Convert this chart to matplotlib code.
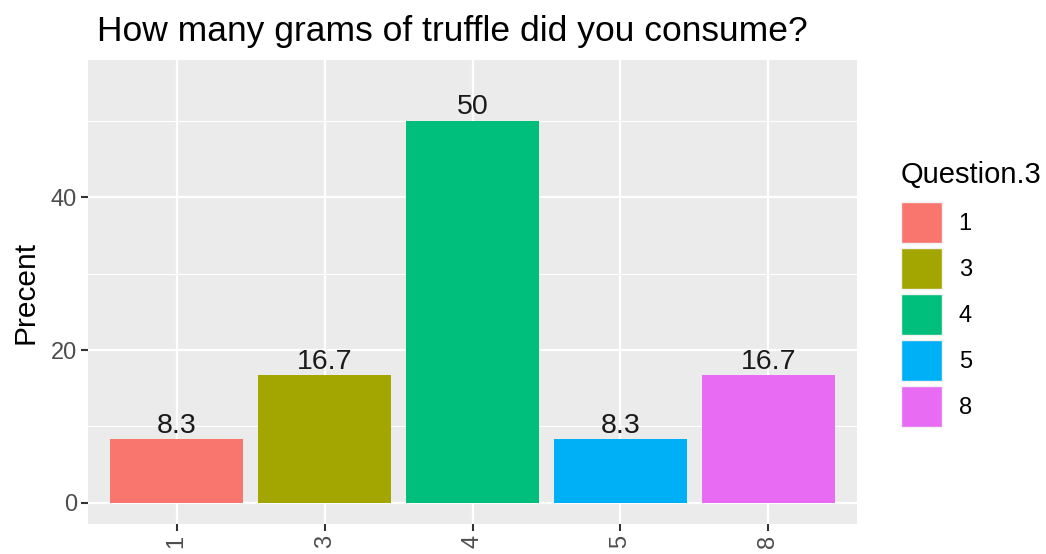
import numpy as np
import matplotlib.pyplot as plt
from matplotlib.ticker import MultipleLocator

plt.rcParams['font.family'] = ['Liberation Sans', 'DejaVu Sans']

categories = ['1', '3', '4', '5', '8']
percent = [8.3, 16.7, 50.0, 8.3, 16.7]
labels = ['8.3', '16.7', '50', '8.3', '16.7']
colors = ['#F8766D', '#A3A500', '#00BF7D', '#00B0F6', '#E76BF3']

fig = plt.figure(figsize=(10.46, 5.54), dpi=100)
ax = fig.add_axes([88 / 1046, 30 / 554, (857 - 88) / 1046, (524 - 60) / 554])
ax.set_facecolor('#EBEBEB')

x = np.arange(1, len(categories) + 1)
bars = ax.bar(x, percent, width=0.9, color=colors, zorder=3)
for xi, v, lab in zip(x, percent, labels):
    ax.text(xi, v + 0.1, lab, ha='center', va='bottom', fontsize=20.5, color='#1A1A1A', zorder=4)

ax.set_xlim(0.4, 5.6)
ax.set_ylim(-2.76, 57.96)
ax.set_xticks(x)
ax.set_xticklabels(categories, rotation=90, fontsize=17, color='#4D4D4D')
ax.yaxis.set_major_locator(MultipleLocator(20))
ax.yaxis.set_minor_locator(MultipleLocator(10))
ax.tick_params(axis='y', labelsize=17, labelcolor='#4D4D4D')
ax.tick_params(which='both', color='#333333', length=5, width=1.5, pad=3)
ax.tick_params(which='minor', length=0)
ax.grid(which='major', color='white', linewidth=1.6, zorder=0)
ax.grid(which='minor', color='white', linewidth=0.8, zorder=0)
for s in ax.spines.values():
    s.set_visible(False)

ax.set_ylabel('Precent', fontsize=21.5, color='black', labelpad=8)
ax.set_title('How many grams of truffle did you consume?', fontsize=25.5, loc='left',
             x=(97 - 88) / (857 - 88), pad=14)

leg = fig.legend(bars, categories, loc='upper left', bbox_to_anchor=(901 / 1046, 1 - 161 / 554),
                 title='Question.3', frameon=False, fontsize=17, title_fontsize=21,
                 handlelength=1.74, handleheight=2.29, labelspacing=0.21, handletextpad=0.7,
                 borderaxespad=0, borderpad=0)
leg._legend_box.align = 'left'
leg._legend_box.sep = 9.5
for h in leg.legend_handles:
    h.set_edgecolor('#F2F2F2')

fig.savefig('out.png', dpi=100)
